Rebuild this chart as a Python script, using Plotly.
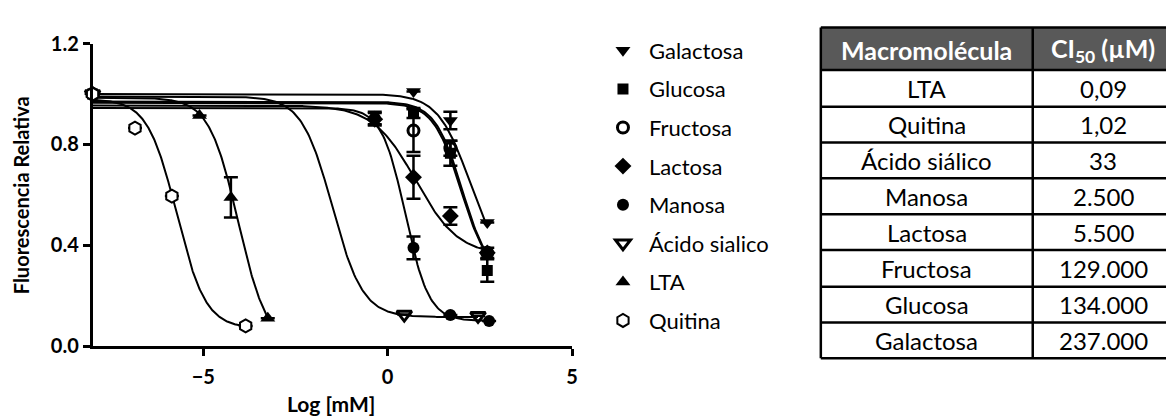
import numpy as np
import plotly.graph_objects as go

W, H = 1174, 416

# ---------------- data ----------------
series_names = ["Galactosa", "Glucosa", "Fructosa", "Lactosa", "Manosa",
                "Ácido sialico", "LTA", "Quitina"]

galactosa_x = [-8, 0.7, 1.7, 2.7]
galactosa_y = [1.0, 1.01, 0.895, 0.49]
galactosa_err = [0, 0, 0.035, 0]

glucosa_x = [-8, 0.7, 1.7, 2.7]
glucosa_y = [1.0, 0.925, 0.765, 0.30]
glucosa_err = [0, 0.02, 0.05, 0.045]

fructosa_x = [-8, 0.7, 1.7, 2.7]
fructosa_y = [1.0, 0.855, 0.785, 0.37]
fructosa_err = [0, 0.085, 0.03, 0.02]

lactosa_x = [-8, -0.35, 0.7, 1.7, 2.7]
lactosa_y = [1.0, 0.9, 0.67, 0.516, 0.37]
lactosa_err = [0, 0.025, 0.085, 0.035, 0]

manosa_x = [-8, -0.35, 0.7, 1.7, 2.75]
manosa_y = [1.0, 0.905, 0.39, 0.123, 0.10]
manosa_err = [0, 0.025, 0.045, 0, 0]

sialico_x = [-8, 0.45, 2.45]
sialico_y = [1.0, 0.125, 0.12]
sialico_err = [0, 0, 0]

lta_x = [-8, -5.1, -4.25, -3.25]
lta_y = [1.0, 0.915, 0.59, 0.11]
lta_err = [0, 0, 0.08, 0]

quitina_x = [-8, -6.85, -5.85, -3.85]
quitina_y = [1.0, 0.865, 0.595, 0.08]
quitina_err = [0, 0, 0, 0]

# fitted sigmoidal dose-response parameters
fit_top = [1.0, 0.97, 0.965, 0.955, 0.945, 0.99, 0.985, 0.98]
fit_bottom = [0.30, 0.27, 0.28, 0.36, 0.10, 0.115, 0.0, 0.07]
fit_logic50 = [2.23, 2.02, 1.98, 0.76, 0.48, -1.5, -4.05, -5.72]
fit_hill = [1.0, 1.18, 1.18, 0.75, 1.36, 1.05, 1.1, 1.1]

# table
table_header = ["Macromolécula", "CI<sub>50</sub> (µM)"]
table_molecule = ["LTA", "Quitina", "Ácido siálico", "Manosa", "Lactosa",
                  "Fructosa", "Glucosa", "Galactosa"]
table_ic50 = ["0,09", "1,02", "33", "2.500", "5.500", "129.000", "134.000", "237.000"]

y_ticks = [0, 0.4, 0.8, 1.2]
x_ticks = [-5, 0, 5]

# ---------------- styles ----------------
xs_all = [galactosa_x, glucosa_x, fructosa_x, lactosa_x, manosa_x, sialico_x, lta_x, quitina_x]
ys_all = [galactosa_y, glucosa_y, fructosa_y, lactosa_y, manosa_y, sialico_y, lta_y, quitina_y]
es_all = [galactosa_err, glucosa_err, fructosa_err, lactosa_err, manosa_err, sialico_err, lta_err, quitina_err]

markers = [
    dict(symbol="triangle-down", size=13, color="black"),
    dict(symbol="square", size=11, color="black"),
    dict(symbol="circle-open", size=11, color="black", line=dict(width=3, color="black")),
    dict(symbol="diamond", size=13, color="black"),
    dict(symbol="circle", size=12, color="black"),
    dict(symbol="triangle-down-open", size=13, color="black", line=dict(width=3, color="black")),
    dict(symbol="triangle-up", size=13, color="black"),
    dict(symbol="hexagon", size=13, color="white", line=dict(width=2, color="black")),
]

FONT = "Lato"

fig = go.Figure()

# fitted curves
for i, name in enumerate(series_names):
    xc = np.linspace(min(xs_all[i]), max(xs_all[i]), 300)
    top, bot, c, h = fit_top[i], fit_bottom[i], fit_logic50[i], fit_hill[i]
    yc = bot + (top - bot) / (1 + 10 ** ((xc - c) * h))
    fig.add_trace(go.Scatter(x=xc, y=yc, mode="lines", line=dict(color="black", width=2),
                             showlegend=False, hoverinfo="skip", cliponaxis=False))

# data points
for i, name in enumerate(series_names):
    fig.add_trace(go.Scatter(
        x=xs_all[i], y=ys_all[i], mode="markers", name=name,
        marker=markers[i], legendgroup=name, cliponaxis=False,
        error_y=dict(type="data", array=es_all[i], visible=True, color="black",
                     thickness=2.5, width=7),
    ))

def px(x):
    return x / W

def py(y):
    return 1 - y / H

fig.update_layout(
    width=W, height=H,
    margin=dict(l=0, r=0, t=0, b=0),
    paper_bgcolor="white", plot_bgcolor="white",
    font=dict(family=FONT, color="black"),
    xaxis=dict(domain=[px(85), px(567)], range=[-8, 5], tickvals=x_ticks,
               showline=True, linewidth=2.5, linecolor="black", ticks="outside",
               ticklen=7, tickwidth=2.5, tickcolor="black", showgrid=False, zeroline=False,
               tickfont=dict(family=FONT, size=20, color="black", weight="bold"),
               ticklabelstandoff=4),
    yaxis=dict(domain=[py(345), py(24)], range=[0, 1.2], tickvals=y_ticks, tickformat=".1f",
               showline=True, linewidth=2.5, linecolor="black", ticks="outside",
               ticklen=7, tickwidth=2.5, tickcolor="black", showgrid=False, zeroline=False,
               tickfont=dict(family=FONT, size=20, color="black", weight="bold")),
    legend=dict(x=px(592), y=py(9), xanchor="left", yanchor="top",
                font=dict(family=FONT, size=22, color="black"),
                tracegroupgap=7, itemwidth=42, bgcolor="rgba(0,0,0,0)"),
    showlegend=True,
)

annotations = [
    dict(text="<b>Log [mM]</b>", x=px(325), y=py(406), xref="paper", yref="paper",
         showarrow=False, font=dict(family=FONT, size=21, color="black"),
         xanchor="center", yanchor="middle"),
    dict(text="<b>Fluorescencia Relativa</b>", x=px(13), y=py(185), xref="paper", yref="paper",
         showarrow=False, textangle=-90, font=dict(family=FONT, size=20, color="black"),
         xanchor="center", yanchor="middle"),
]

shapes = []
# table geometry
tx0, txm, tx1 = 817, 1030, 1172
row_edges = [7, 52, 91, 129, 167, 205, 243, 282, 320, 358]
shapes.append(dict(type="rect", xref="paper", yref="paper", x0=px(tx0), x1=px(tx1),
                   y0=py(row_edges[1]), y1=py(row_edges[0]), fillcolor="#595959",
                   line=dict(width=0), layer="below"))
for r in row_edges:
    shapes.append(dict(type="line", xref="paper", yref="paper", x0=px(tx0), x1=px(tx1),
                       y0=py(r), y1=py(r), line=dict(color="black", width=2.5)))
for c in [tx0, txm, tx1]:
    shapes.append(dict(type="line", xref="paper", yref="paper", x0=px(c), x1=px(c),
                       y0=py(row_edges[0]), y1=py(row_edges[-1]), line=dict(color="black", width=2.5)))

col_c = [(tx0 + txm) / 2, (txm + tx1) / 2]
hy = (row_edges[0] + row_edges[1]) / 2
for j, t in enumerate(table_header):
    annotations.append(dict(text=f"<b>{t}</b>", x=px(col_c[j]), y=py(hy + 1), xref="paper",
                            yref="paper", showarrow=False, xanchor="center", yanchor="middle",
                            font=dict(family=FONT, size=25, color="white")))
for i in range(len(table_molecule)):
    cy = (row_edges[i + 1] + row_edges[i + 2]) / 2
    for j, t in enumerate([table_molecule[i], table_ic50[i]]):
        annotations.append(dict(text=t, x=px(col_c[j]), y=py(cy), xref="paper", yref="paper",
                                showarrow=False, xanchor="center", yanchor="middle",
                                font=dict(family=FONT, size=24, color="black")))

fig.update_layout(annotations=annotations, shapes=shapes)
fig.write_html("out.html")
